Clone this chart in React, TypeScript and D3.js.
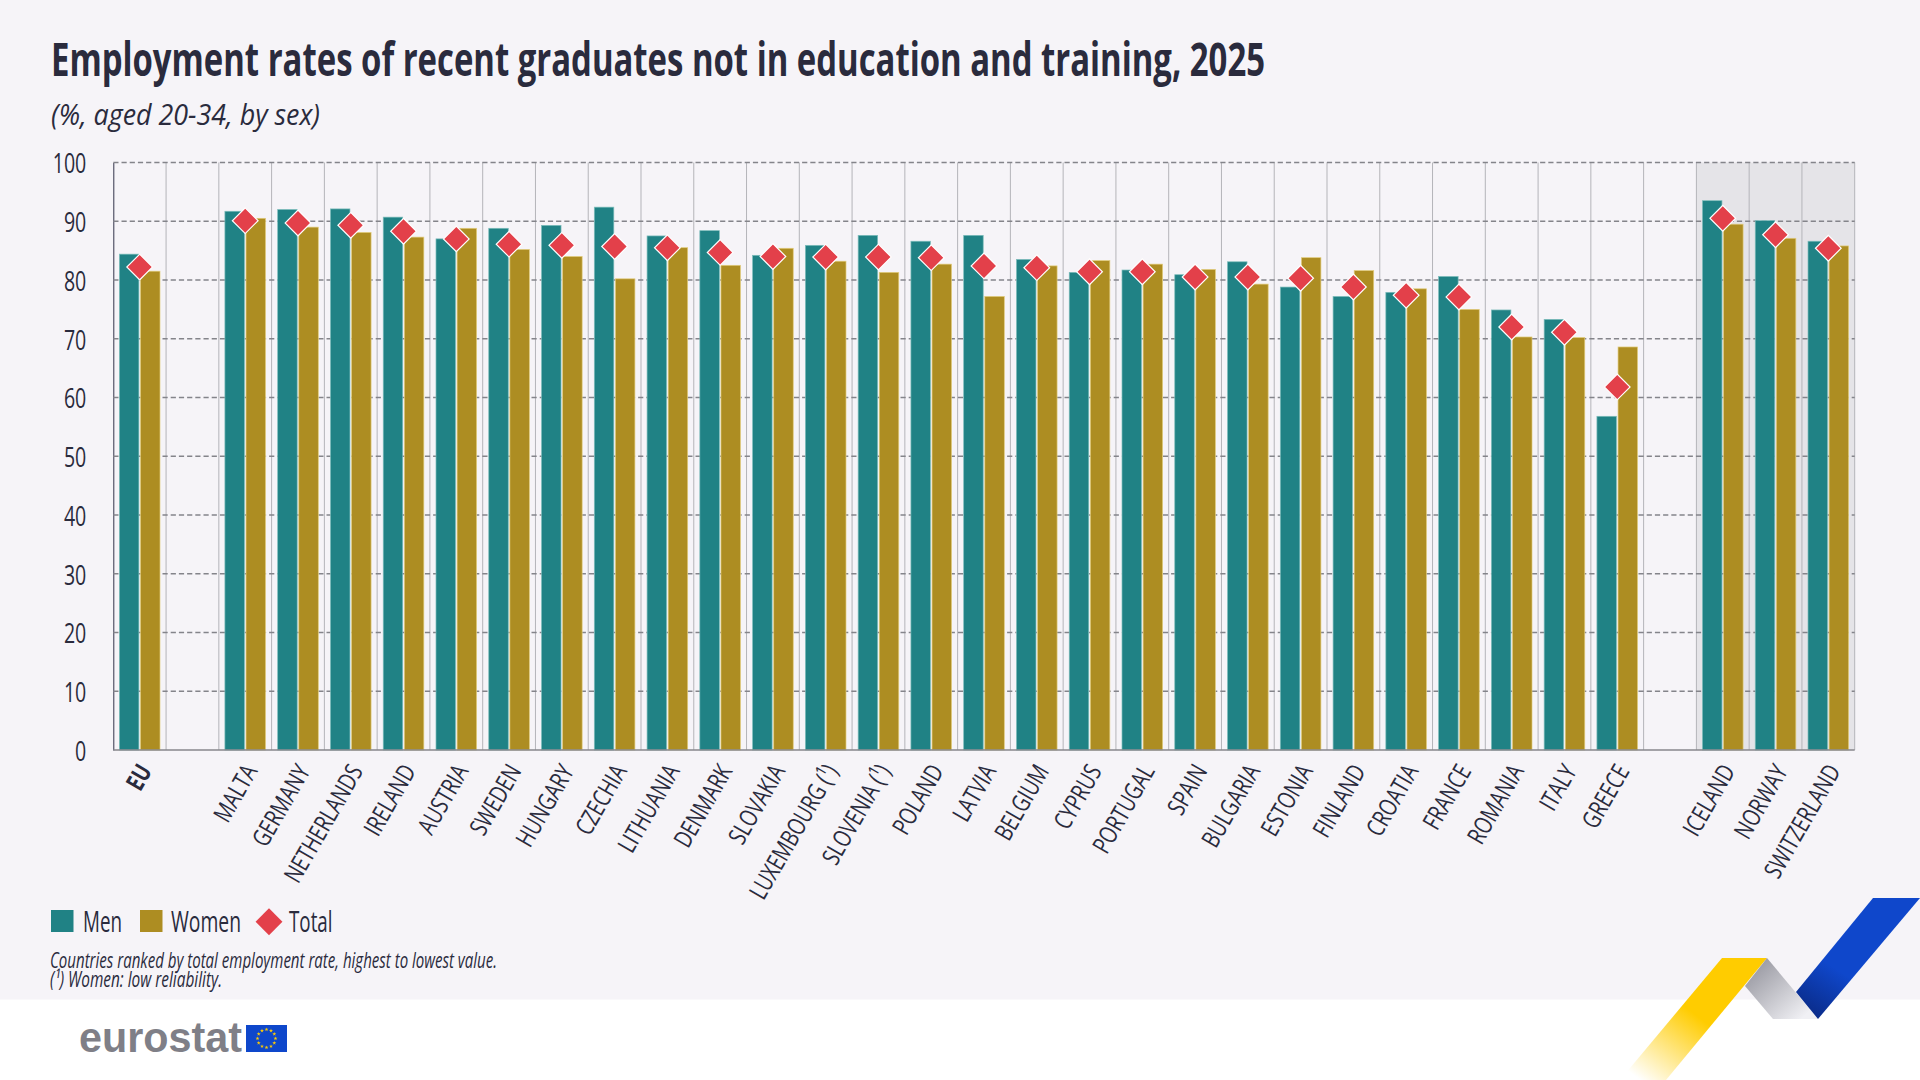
import { useEffect, useRef } from 'react';
import * as d3 from 'd3';

// Values. Blank entries are the spacer slots between groups.
const categories = [
  'EU', ' ', 'MALTA', 'GERMANY', 'NETHERLANDS', 'IRELAND', 'AUSTRIA', 'SWEDEN', 'HUNGARY', 'CZECHIA',
  'LITHUANIA', 'DENMARK', 'SLOVAKIA', 'LUXEMBOURG (¹)', 'SLOVENIA (¹)', 'POLAND', 'LATVIA', 'BELGIUM',
  'CYPRUS', 'PORTUGAL', 'SPAIN', 'BULGARIA', 'ESTONIA', 'FINLAND', 'CROATIA', 'FRANCE', 'ROMANIA',
  'ITALY', 'GREECE', '  ', 'ICELAND', 'NORWAY', 'SWITZERLAND',
];
const men = [
  84.4, null, 91.7, 92.0, 92.1, 90.7, 87.0, 88.8, 89.3, 92.4, 87.5, 88.4, 84.2, 85.9, 87.6, 86.6, 87.6, 83.5,
  81.3, 81.7, 80.9, 83.1, 78.8, 77.2, 77.9, 80.6, 74.9, 73.3, 56.8, null, 93.5, 90.1, 86.6,
];
const women = [
  81.5, null, 90.5, 89.0, 88.1, 87.3, 88.8, 85.2, 84.0, 80.2, 85.5, 82.5, 85.4, 83.2, 81.3, 82.7, 77.2, 82.4,
  83.3, 82.7, 81.8, 79.3, 83.8, 81.6, 78.5, 75.0, 70.3, 70.2, 68.6, null, 89.5, 87.1, 85.8,
];
const total = [
  82.2, null, 90.1, 89.7, 89.3, 88.3, 87.0, 86.1, 85.9, 85.7, 85.5, 84.7, 84.0, 83.9, 83.9, 83.8, 82.4, 82.1,
  81.4, 81.4, 80.5, 80.5, 80.3, 78.8, 77.4, 77.1, 72.0, 71.1, 61.8, null, 90.5, 87.7, 85.4,
];
const shadedCategories = ['ICELAND', 'NORWAY', 'SWITZERLAND'];
const yTicks = [0, 10, 20, 30, 40, 50, 60, 70, 80, 90, 100];

const TEAL = '#208285';
const GOLD = '#AD8D22';
const RED = '#E3404A';
const INK = '#2A2B3D';
const BG = '#F6F4F8';
const FONT = '"Open Sans", "Noto Sans", sans-serif';

export default function App() {
  const svgRef = useRef<SVGSVGElement>(null);

  useEffect(() => {
    if (!svgRef.current) return;
    const svg = d3.select(svgRef.current);
    svg.selectAll('*').remove();

    const plot = { left: 113.3, right: 1854.7, top: 162.5, bottom: 750 };

    const x = d3.scaleBand<string>().domain(categories).range([plot.left, plot.right]);
    const inner = d3.scaleBand<string>()
      .domain(['men', 'women'])
      .range([0, x.bandwidth()])
      .paddingInner(0.076)
      .paddingOuter(0.288);
    const y = d3.scaleLinear().domain([0, 100]).range([plot.bottom, plot.top]);

    // Background + white footer
    svg.append('rect').attr('width', 1920).attr('height', 1080).attr('fill', '#fff');
    svg.append('rect').attr('width', 1920).attr('height', 999.5).attr('fill', BG);

    // Gradients for the ribbon
    const defs = svg.append('defs');
    const gradient = (id: string, x1: number, y1: number, x2: number, y2: number, stops: [number, string][]) => {
      const g = defs.append('linearGradient').attr('id', id)
        .attr('gradientUnits', 'userSpaceOnUse')
        .attr('x1', x1).attr('y1', y1).attr('x2', x2).attr('y2', y2);
      stops.forEach(([o, c]) => g.append('stop').attr('offset', o).attr('stop-color', c));
    };
    gradient('ribbonBlue', 1860, 930, 1805, 1015, [[0, '#0F47CB'], [0.45, '#0F47CB'], [1, '#0A2A85']]);
    gradient('ribbonGrey', 1750, 965, 1800, 1020, [[0, '#96969F'], [1, '#F0F0F4']]);
    gradient('ribbonYellow', 1692, 1012, 1640, 1080, [[0, '#FFCC00'], [1, '#FFFFFF']]);

    // Shaded non-EU bands
    svg.append('g').selectAll('rect')
      .data(shadedCategories)
      .join('rect')
      .attr('x', d => x(d)!)
      .attr('y', plot.top)
      .attr('width', x.bandwidth())
      .attr('height', plot.bottom - plot.top)
      .attr('fill', '#E5E4E8');

    // Vertical separators
    svg.append('g').selectAll('line')
      .data(categories)
      .join('line')
      .attr('x1', d => x(d)! + x.bandwidth())
      .attr('x2', d => x(d)! + x.bandwidth())
      .attr('y1', plot.top)
      .attr('y2', plot.bottom)
      .attr('stroke', '#B4B4B9')
      .attr('stroke-width', 1);

    // Y axis, gridlines come from the ticks
    const yAxis = svg.append('g')
      .attr('transform', `translate(${plot.left},0)`)
      .call(d3.axisLeft(y).tickValues(yTicks).tickSize(0).tickPadding(0));
    yAxis.select('.domain').attr('stroke', '#34344A').attr('stroke-width', 1);
    yAxis.selectAll('.tick text')
      .attr('x', 0)
      .attr('dy', '0.37em')
      .attr('transform', 'translate(-27,0) scale(0.7,1)')
      .attr('fill', INK)
      .style('font-family', FONT)
      .style('font-size', '28px');
    svg.append('g').selectAll('line')
      .data(yTicks.filter(t => t > 0))
      .join('line')
      .attr('x1', plot.left)
      .attr('x2', plot.right)
      .attr('y1', d => y(d))
      .attr('y2', d => y(d))
      .attr('stroke', '#84848A')
      .attr('stroke-width', 1.3)
      .attr('stroke-dasharray', '5.2 3');

    // Bars
    const drawBars = (key: string, values: (number | null)[], fill: string, edge: string) => {
      svg.append('g').selectAll('rect')
        .data(categories.map((c, i) => ({ c, v: values[i] })).filter(d => d.v !== null))
        .join('rect')
        .attr('x', d => x(d.c)! + inner(key)!)
        .attr('y', d => y(d.v as number))
        .attr('width', inner.bandwidth())
        .attr('height', d => plot.bottom - y(d.v as number))
        .attr('fill', fill)
        .attr('stroke', edge)
        .attr('stroke-width', 0.7);
    };
    drawBars('men', men, TEAL, '#7DBDBB');
    drawBars('women', women, GOLD, '#E2CC7C');

    // Baseline over the bar feet
    svg.append('line')
      .attr('x1', plot.left).attr('x2', plot.right)
      .attr('y1', plot.bottom).attr('y2', plot.bottom)
      .attr('stroke', '#87878D')
      .attr('stroke-width', 1.6);

    // Total markers
    const diamond = d3.symbol().type(d3.symbolSquare).size(330);
    svg.append('g').selectAll('path')
      .data(categories.map((c, i) => ({ c, v: total[i] })).filter(d => d.v !== null))
      .join('path')
      .attr('d', diamond as any)
      .attr('transform', d => `translate(${x(d.c)! + x.bandwidth() / 2},${y(d.v as number)}) rotate(45)`)
      .attr('fill', RED)
      .attr('stroke', '#fff')
      .attr('stroke-width', 1.2);

    // Country labels, spacer slots get none
    const xAxis = svg.append('g')
      .attr('transform', `translate(0,${plot.bottom})`)
      .call(d3.axisBottom(x).tickValues(categories.filter(c => c.trim() !== '')).tickSize(0));
    xAxis.select('.domain').remove();
    xAxis.selectAll('.tick text')
      .attr('x', 0)
      .attr('y', 0)
      .attr('dy', 0)
      .attr('text-anchor', 'end')
      .attr('transform', 'translate(13,21) rotate(-60) scale(0.755,1)')
      .attr('fill', INK)
      .style('font-family', FONT)
      .style('font-size', '25px')
      .style('font-weight', d => (d === 'EU' ? 700 : 400));

    // Title block and notes, squeezed to the condensed widths of the original
    const label = (txt: string, lx: number, ly: number, len: number, size: number, italic = false, weight = 400) => {
      svg.append('text')
        .attr('x', lx)
        .attr('y', ly)
        .attr('textLength', len)
        .attr('lengthAdjust', 'spacingAndGlyphs')
        .attr('fill', INK)
        .style('font-family', FONT)
        .style('font-size', `${size}px`)
        .style('font-style', italic ? 'italic' : 'normal')
        .style('font-weight', weight)
        .text(txt);
    };
    label('Employment rates of recent graduates not in education and training, 2025', 51, 76, 1214, 46, false, 700);
    label('(%, aged 20-34, by sex)', 51, 125, 269, 29, true);
    label('Countries ranked by total employment rate, highest to lowest value.', 50, 968, 447, 22, true);
    label('(¹) Women: low reliability.', 50, 987, 172, 22, true);

    // Legend
    svg.append('rect').attr('x', 51).attr('y', 910).attr('width', 22.5).attr('height', 22).attr('fill', TEAL);
    label('Men', 83, 931.5, 39, 29);
    svg.append('rect').attr('x', 140).attr('y', 910).attr('width', 22.5).attr('height', 22).attr('fill', GOLD);
    label('Women', 171, 931.5, 70, 29);
    svg.append('path')
      .attr('d', d3.symbol().type(d3.symbolSquare).size(361)() as string)
      .attr('transform', 'translate(269,921.7) rotate(45)')
      .attr('fill', RED);
    label('Total', 289, 931.5, 43.5, 29);

    // Eurostat logo
    svg.append('text')
      .attr('x', 79)
      .attr('y', 1052)
      .attr('textLength', 163)
      .attr('lengthAdjust', 'spacingAndGlyphs')
      .attr('fill', '#7F7F87')
      .style('font-family', '"Liberation Sans", Arial, sans-serif')
      .style('font-size', '42px')
      .style('font-weight', 700)
      .text('eurostat');
    svg.append('rect').attr('x', 246).attr('y', 1025).attr('width', 41).attr('height', 27).attr('fill', '#0E47CB');
    const star = d3.symbol().type(d3.symbolStar).size(5);
    svg.append('g').selectAll('path')
      .data(d3.range(12))
      .join('path')
      .attr('d', star as any)
      .attr('transform', d => {
        const a = (d / 12) * 2 * Math.PI;
        return `translate(${266.5 + 9 * Math.cos(a)},${1038.5 + 9 * Math.sin(a)})`;
      })
      .attr('fill', '#FFCC00');

    // Corner ribbon
    const ribbon = d3.line();
    svg.append('path')
      .attr('d', ribbon([[1722, 958], [1767, 958], [1666, 1080], [1620, 1080]]) + 'Z')
      .attr('fill', 'url(#ribbonYellow)');
    svg.append('path')
      .attr('d', ribbon([[1767, 958], [1818, 1019], [1773, 1019], [1745, 986]]) + 'Z')
      .attr('fill', 'url(#ribbonGrey)');
    svg.append('path')
      .attr('d', ribbon([[1873, 898], [1920, 898], [1818, 1019], [1796, 992]]) + 'Z')
      .attr('fill', 'url(#ribbonBlue)');
  }, []);

  return (
    <svg
      ref={svgRef}
      width={1920}
      height={1080}
      style={{ position: 'absolute', left: 0, top: 0, display: 'block' }}
    />
  );
}
